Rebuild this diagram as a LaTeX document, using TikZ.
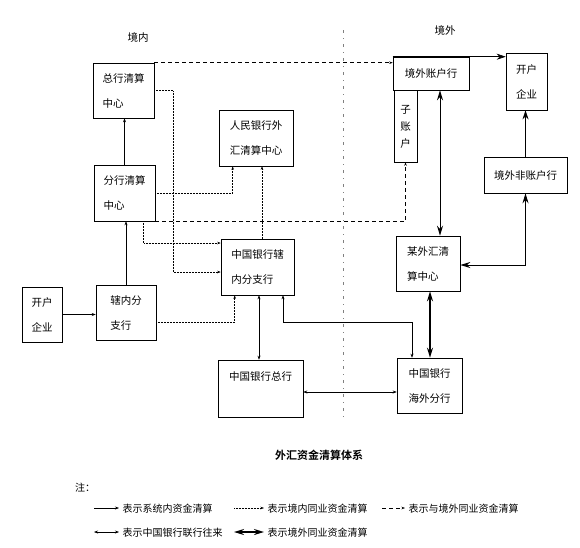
\documentclass[tikz,border=0pt]{standalone}
\usepackage{fontspec}
\setmainfont{Noto Sans CJK SC}[BoldFont={Noto Sans CJK SC Bold}]
\usetikzlibrary{arrows.meta}

\begin{document}
\begin{tikzpicture}[
            x = 1pt, y = -1pt,
            every node/.style={text depth=0pt},
            box/.style={draw, line width = .6pt, align=left, inner sep=0pt,
                font=\fontsize{10.5}{25}\selectfont},
            xitong/.style={line width = .5pt, -{Stealth[length=4pt, width=3pt]}},
            dajian/.style={line width = .6pt, -{Stealth[length=9pt, width=6pt]}},
            jingnei/.style={line width = .5pt, densely dotted, -{Stealth[length=3.5pt, width=2.5pt]}},
            jingwai/.style={line width = .5pt, dash pattern=on 4pt off 3pt, -{Stealth[length=3.5pt, width=2.5pt]}},
            lianhang/.style={line width = .5pt, {Stealth[length=4pt, width=3pt]}-{Stealth[length=4pt, width=3pt]}},
            tongye/.style={line width = 1pt, {Stealth[length=10pt, width=6pt]}-{Stealth[length=10pt, width=6pt]}},
            tongyetu/.style={tongye, line width = 1.8pt},
            fenjie/.style={line width = .5pt, gray, dash pattern=on 3pt off 5pt on 1pt off 5pt},
            legend/.style={anchor=west, font=\fontsize{10}{10}\selectfont},
            ]
        \useasboundingbox (0,0) rectangle (580,547);

        \node[font=\fontsize{10.5}{10.5}\selectfont] (jn) at (138,37) {境内};
        \node[font=\fontsize{10.5}{10.5}\selectfont] (jw) at (445,30) {境外};
        \coordinate (fjtop) at (343,30);
        \coordinate (fjbot) at (343,420);
        \draw[fenjie] (fjtop) -- (fjbot);

        \node[box, minimum width=61pt, minimum height=55pt] (zhc) at (123.5,90.5) {总行清算\\中心};
        \node[box, minimum width=61pt, minimum height=56pt] (fhc) at (124.5,193) {分行清算\\中心};
        \node[box, minimum width=74pt, minimum height=56pt] (rmb) at (256,138) {人民银行外\\汇清算中心};
        \node[box, minimum width=73pt, minimum height=56pt] (xnzh) at (257.5,267) {中国银行辖\\内分支行};
        \node[box, minimum width=40pt, minimum height=55pt] (qyl) at (42,314.5) {开户\\企业};
        \node[box, minimum width=60pt, minimum height=55pt] (xnf) at (126,312.5) {辖内分\\支行};
        \node[box, minimum width=85pt, minimum height=57pt] (zh) at (260.5,388.5) {中国银行总行\\\strut};
        \node[box, minimum width=65pt, minimum height=55pt] (hwf) at (429.5,385.5) {中国银行\\海外分行};
        \node[box, minimum width=64pt, minimum height=55pt] (mwh) at (428,263.5) {某外汇清\\算中心};
        \node[box, minimum width=76pt, minimum height=33pt] (zhh) at (431,73.5) {境外账户行};
        \node[box, minimum width=23pt, minimum height=72pt, align=center,
            font=\fontsize{10.5}{17}\selectfont] (zzh) at (405.5,126) {子\\账\\户};
        \node[box, minimum width=41pt, minimum height=57pt] (qyr) at (526.5,81.5) {开户\\企业};
        \node[box, minimum width=83pt, minimum height=36pt] (fzh) at (525.5,175) {境外非账户行};

        \draw[xitong] (fhc.north) -- (fhc.north |- zhc.south);
        \draw[xitong] (xnf.north) -- (xnf.north |- fhc.south);
        \draw[xitong] (qyl.east) -- (qyl.east -| xnf.west);
        \draw[dajian] (fzh.north) -- (fzh.north |- qyr.south);
        \draw[dajian] (zhh.north west) -- ([yshift=-4pt]qyr.north west);

        \draw[jingwai] (zhc.north east) -- (zhc.north east -| zhh.west);
        \draw[jingwai] (fhc.south east) -| (zzh.south);

        \draw[jingnei] (zhc.east) -- ++(19,0) |- ([yshift=-5pt]xnzh.west);
        \draw[jingnei] (fhc.east) -| ([xshift=14pt]rmb.south west);
        \draw[jingnei] ([xshift=-12pt]fhc.south east) |- ([yshift=24pt]xnzh.west);
        \draw[jingnei] ([xshift=4.5pt]xnzh.north) -- ([xshift=4.5pt]xnzh.north |- rmb.south);
        \draw[jingnei] ([yshift=-9.5pt]xnf.east) -| ([xshift=14pt]xnzh.south west);

        \draw[lianhang] ([xshift=1.5pt]xnzh.south) -- ([xshift=1.5pt]xnzh.south |- zh.north);
        \draw[lianhang] ([yshift=-3.5pt]zh.east) -- ([yshift=-3.5pt]zh.east -| hwf.west);
        \draw[lianhang] ([xshift=25.5pt]xnzh.south) -- ++(0,27) -| ([xshift=-17.5pt]hwf.north);

        \draw[tongye] ([xshift=9pt]zhh.south) -- ([xshift=9pt]zhh.south |- mwh.north);
        \draw[tongye, line width=1.4pt] ([xshift=2pt]mwh.south) -- ([xshift=2pt]mwh.south |- hwf.north);
        \draw[tongye] ([yshift=-1.5pt]mwh.east) -| (fzh.south);

        \node[font=\bfseries\fontsize{11}{11}\selectfont] (title) at (319,455) {外汇资金清算体系};
        \node[legend, inner sep=0pt] (zhu) at (75,487) {注：};

        \foreach \s/\x/\y/\len/\t [count=\i] in {
                xitong/119/508/25/表示系统内资金清算,
                jingnei/264/508/30/表示境内同业资金清算,
                jingwai/405/508/23/表示与境外同业资金清算,
                lianhang/119/532/25/表示中国银行联行往来,
                tongyetu/264/532/30/表示境外同业资金清算} {
            \node[legend] (lg\i) at (\x,\y) {\t};
            \draw[\s] ([xshift=-\len pt]lg\i.west) -- (lg\i.west);
        }
    \end{tikzpicture}
\end{document}
